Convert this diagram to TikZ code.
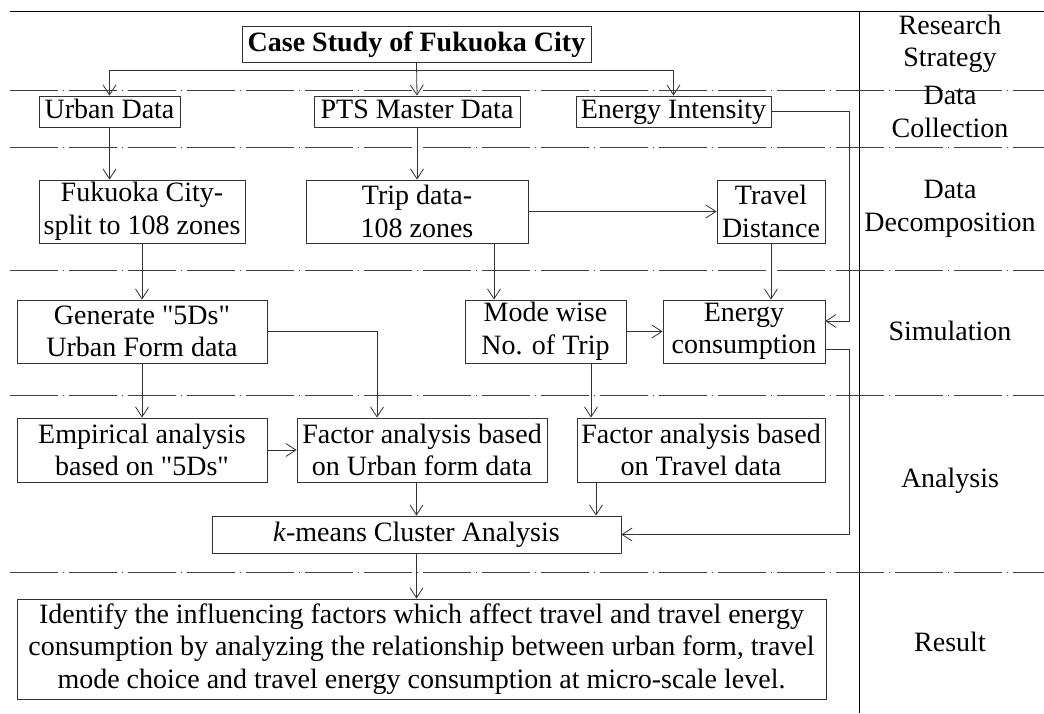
\documentclass[tikz,border=0pt]{standalone}
\usepackage{fontspec}
\setmainfont{Liberation Serif}[Ligatures=TeXOff]
\usepackage{tikz}
\usetikzlibrary{arrows.meta,calc}

\begin{document}
\begin{tikzpicture}[x=0.5pt,y=-0.5pt,
  box/.style={draw,black!80,text=black,align=center,inner sep=0pt,font=\fontsize{14}{16.3}\selectfont},
  oneline/.style={text height=9.8pt,text depth=2.5pt},
  lbl/.style={align=center,inner sep=0pt,font=\fontsize{14}{16.3}\selectfont},
  arr/.style={-{Straight Barb[length=5pt,width=6.5pt]},black!80},
  sep/.style={black!75,dash pattern=on 24pt off 2.5pt on 0.5pt off 2.5pt}]
  \useasboundingbox (0,0) rectangle (1044,713);
  \draw[black] (10,11) -- (1044,11);
  \draw[black] (859,11) -- (859,713);
  \foreach \y in {90,147,270,395,572}
    \draw[sep] (10,\y) -- (1044,\y);
  \node[lbl] (rs) at (950,44) {Research\\Strategy};
  \node[lbl] (dc) at (950,112) {Data\\Collection};
  \node[lbl] (dd) at (950,209) {Data\\Decomposition};
  \node[lbl] (sim) at (950,331) {Simulation};
  \node[lbl] (ana) at (950,481) {Analysis};
  \node[lbl] (res) at (950,642) {Result};
  \coordinate (busx) at (849,0);
  \node[box,oneline,minimum width=174.5pt,minimum height=18pt,font=\fontsize{14}{16.3}\selectfont\bfseries] (case) at (416.5,44) {Case Study of Fukuoka City};
  \node[box,oneline,minimum width=70.5pt,minimum height=15.5pt] (urban) at (109.5,111.5) {Urban Data};
  \node[box,oneline,minimum width=103pt,minimum height=15.5pt] (pts) at (417,111.5) {PTS Master Data};
  \node[box,oneline,minimum width=97.5pt,minimum height=15.5pt] (eint) at (673.5,111.5) {Energy Intensity};
  \node[box,minimum width=103pt,minimum height=31.5pt] (fuku) at (142,211.5) {Fukuoka City-\\split to 108 zones};
  \node[box,minimum width=111pt,minimum height=31.5pt] (trip) at (417,211.5) {Trip data-\\108 zones};
  \node[box,minimum width=54pt,minimum height=31.5pt] (tdist) at (771,211.5) {Travel\\Distance};
  \node[box,minimum width=125pt,minimum height=31.5pt] (gen) at (142,331.5) {Generate "5Ds"\\Urban Form data};
  \node[box,minimum width=80.5pt,minimum height=31.5pt] (mode) at (545.5,331.5) {Mode wise\\No. of Trip};
  \node[box,minimum width=81pt,minimum height=31.5pt] (econs) at (744,331.5) {Energy\\consumption};
  \node[box,minimum width=125pt,minimum height=32pt] (emp) at (142,450) {Empirical analysis\\based on "5Ds"};
  \node[box,minimum width=125pt,minimum height=32pt] (facuf) at (422,450) {Factor analysis based\\on Urban form data};
  \node[box,minimum width=124pt,minimum height=32pt] (factr) at (701,450) {Factor analysis based\\on Travel data};
  \node[box,oneline,minimum width=204.5pt,minimum height=18.5pt] (kmeans) at (416.5,534.5) {\textit{k}-means Cluster Analysis};
  \node[box,minimum width=404.5pt,minimum height=50pt] (result) at (421.5,649) {Identify the influencing factors which affect travel and travel energy\\consumption by analyzing the relationship between urban form, travel\\mode choice and travel energy consumption at micro-scale level.};
  \draw[arr] (case.south) -- ++(0,-4pt) -| (urban.north);
  \draw[arr] (case.south) -- ++(0,-4pt) -| (eint.north);
  \draw[arr] (case.south) -- (pts.north);
  \draw[arr] (urban.south) -- (urban.south |- fuku.north);
  \draw[arr] (pts.south) -- (trip.north);
  \draw[arr] (eint.east) -| ([yshift=5.25pt]econs.east -| busx) -- ([yshift=5.25pt]econs.east);
  \draw[arr] (trip.east) -- (tdist.west);
  \draw[arr] (fuku.south) -- (gen.north);
  \draw[arr] ([xshift=38.5pt]trip.south) -- ([xshift=38.5pt]trip.south |- mode.north);
  \draw[arr] (tdist.south) -- (tdist.south |- econs.north);
  \draw[arr] (mode.east) -- (econs.west);
  \draw[arr] ([yshift=-8.75pt]econs.east) -| (kmeans.east -| busx) -- (kmeans.east);
  \draw[arr] (gen.east) -| ([xshift=-22.5pt]facuf.north);
  \draw[arr] (gen.south) -- (emp.north);
  \draw[arr] ([xshift=22.75pt]mode.south) -- ([xshift=22.75pt]mode.south |- factr.north);
  \draw[arr] (emp.east) -- (facuf.west);
  \draw[arr] (facuf.south -| kmeans.north) -- (kmeans.north);
  \draw[arr] ([xshift=-52.5pt]factr.south) -- ([xshift=-52.5pt]factr.south |- kmeans.north);
  \draw[arr] (kmeans.south) -- (kmeans.south |- result.north);
\end{tikzpicture}
\end{document}
